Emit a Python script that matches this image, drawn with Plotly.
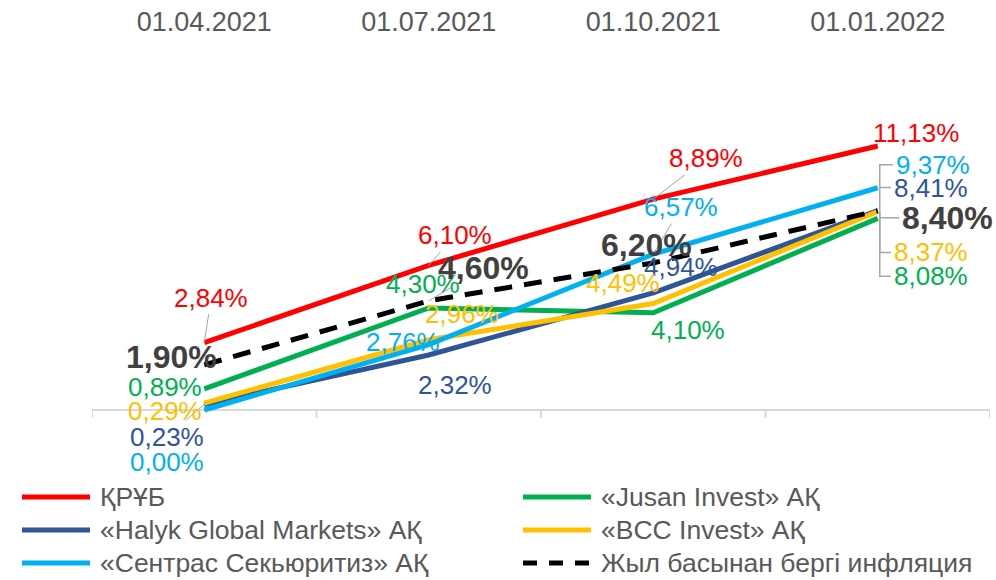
import plotly.graph_objects as go

# ---------------- data ----------------
categories = ["01.04.2021", "01.07.2021", "01.10.2021", "01.01.2022"]

series_names = [
    "ҚРҰБ",
    "«Jusan Invest» АҚ",
    "«Halyk Global Markets» АҚ",
    "«BCC Invest» АҚ",
    "«Сентрас Секьюритиз» АҚ",
    "Жыл басынан бергі инфляция",
]
kruub = [2.84, 6.10, 8.89, 11.13]
jusan = [0.89, 4.30, 4.10, 8.08]
halyk = [0.23, 2.32, 4.94, 8.41]
bcc = [0.29, 2.96, 4.49, 8.37]
sentras = [0.00, 2.76, 6.57, 9.37]
inflation = [1.90, 4.60, 6.20, 8.40]

series_values = [kruub, jusan, halyk, bcc, sentras, inflation]

# ---------------- styles ----------------
colors = ["#FF0000", "#00B050", "#2F5597", "#FFC000", "#00B0F0", "#000000"]
label_colors = ["#FF0000", "#00B050", "#2F5597", "#FFC000", "#00B0F0", "#404040"]
dashes = ["solid", "solid", "solid", "solid", "solid", "18px,12px"]

# label offsets in pixels (dx, dy; dy positive = down) and leader style:
# 0 = none, 1 = straight leader, 2 = elbow (bracket) leader
label_offsets = [
    [(7, -45, 1), (26, -30, 1), (53, -41, 1), (38, -13, 0)],      # red
    [(-39, -2, 0), (-6, -24, 0), (35, 17, 0), (53, 58, 2)],       # green
    [(-37, 32, 1), (26, 30, 0), (28, -26, 0), (53, -23, 2)],      # dark blue
    [(-39, 8, 1), (33, -26, 0), (-30, -21, 0), (53, 41, 2)],      # yellow
    [(-37, 52, 0), (-26, -3, 0), (28, -47, 1), (55, -23, 2)],     # light blue
    [(-33, -8, 0), (55, -33, 1), (-7, -18, 1), (70, 7, 2)],       # inflation
]

FONT = "Arial, Liberation Sans, sans-serif"
TXT = "#595959"
LEADER = "#A6A6A6"

fig = go.Figure()
for i, vals in enumerate(series_values):
    fig.add_trace(go.Scatter(
        x=categories, y=vals, mode="lines", name=series_names[i],
        line=dict(color=colors[i], width=5, dash=dashes[i]),
        showlegend=False, hoverinfo="skip",
    ))

annotations = []
shapes = []
for i, vals in enumerate(series_values):
    bold = i == 5
    fsize = 32 if bold else 26
    for j, v in enumerate(vals):
        dx, dy, leader = label_offsets[i][j]
        txt = f"{v:.2f}".replace(".", ",") + "%"
        half_w = 0.5 * fsize * (0.556 * (len(txt) - 2) + 0.278 + 0.889)
        if bold:
            txt = "<b>" + txt + "</b>"
        annotations.append(dict(
            x=categories[j], y=v, xref="x", yref="y",
            text=txt, showarrow=True, ax=dx, ay=dy,
            arrowhead=0, arrowwidth=1, standoff=0,
            arrowcolor=LEADER if leader == 1 else "rgba(0,0,0,0)",
            font=dict(family=FONT, size=fsize, color=label_colors[i]),
        ))
        if leader == 2:
            stub = dx - half_w - 3
            shapes.append(dict(
                type="path", xref="x", yref="y",
                xsizemode="pixel", ysizemode="pixel",
                xanchor=j, yanchor=v,
                path=f"M {stub:.1f},{-dy} L 2,{-dy} L 2,0",
                line=dict(color=LEADER, width=1.5),
            ))

# ---- custom legend (two columns, three rows) ----
L, T, W, H = 92, 45, 898, 425

def px(xp):
    return (xp - L) / W

def py(yp):
    return (T + H - yp) / H

legend_cols = [22, 523]
legend_rows = [497, 530, 563]
for k, name in enumerate(series_names):
    cx = legend_cols[k % 2]
    cy = legend_rows[k // 2]
    shapes.append(dict(
        type="line", xref="paper", yref="paper",
        x0=px(cx), x1=px(cx + 68), y0=py(cy), y1=py(cy),
        line=dict(color=colors[k], width=5, dash="solid" if k < 5 else "14px,12px"),
    ))
    annotations.append(dict(
        x=px(cx + 76), y=py(cy), xref="paper", yref="paper",
        text=name, showarrow=False, xanchor="left", yanchor="middle",
        font=dict(family=FONT, size=26.5, color=TXT),
    ))

# tick marks at category boundaries on the zero line
for b in range(len(categories) + 1):
    shapes.append(dict(
        type="line", xref="x", yref="y", ysizemode="pixel", yanchor=0,
        x0=b - 0.5, x1=b - 0.5, y0=0, y1=-8,
        line=dict(color="#D9D9D9", width=2),
    ))

fig.update_layout(
    width=996, height=580,
    margin=dict(l=L, r=996 - L - W, t=T, b=580 - T - H),
    paper_bgcolor="white", plot_bgcolor="white",
    showlegend=False,
    annotations=annotations, shapes=shapes,
    xaxis=dict(
        type="category", side="top", range=[-0.5, 3.5],
        showgrid=False, showline=False, ticks="", zeroline=False,
        tickfont=dict(family=FONT, size=27, color=TXT),
        ticklabelstandoff=8,
    ),
    yaxis=dict(
        range=[-2.53, 15.39], showgrid=False, showticklabels=False,
        zeroline=True, zerolinecolor="#D9D9D9", zerolinewidth=2,
        showline=False, ticks="",
    ),
)

fig.write_html(
    "out.html",
    config={"displayModeBar": False},
    post_script="document.body.style.margin='0';document.body.style.overflow='hidden';",
)
